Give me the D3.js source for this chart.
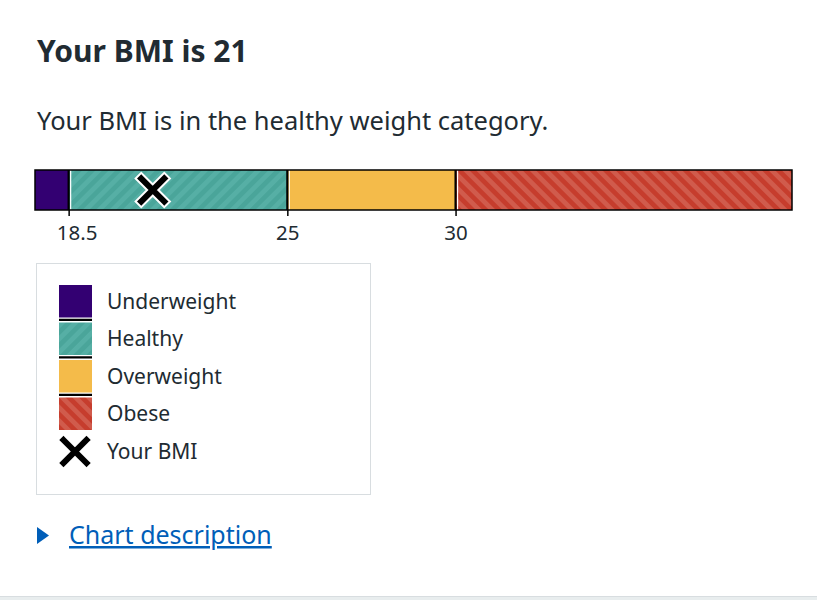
<!DOCTYPE html>
<html>
<head>
<meta charset="utf-8">
<script src="https://cdn.jsdelivr.net/npm/d3@7"></script>
<style>
  body { margin: 0; background: #fff; }
  svg { display: block; font-family: "Noto Sans", sans-serif; }
</style>
</head>
<body>
<svg id="chart"></svg>
<script>
// BMI categories and their boundaries
var categories = ["Underweight", "Healthy", "Overweight", "Obese"];
var lowerBounds = [17.5, 18.5, 25, 30];
var upperBounds = [18.5, 25, 30, 40];
var tickValues = [18.5, 25, 30];
var bmi = 21;

var width = 817, height = 600;
var ink = "#212b32";

var svg = d3.select("#chart")
    .attr("width", width)
    .attr("height", height);

var defs = svg.append("defs");

function stripes(id, base, light, angle) {
  var p = defs.append("pattern")
      .attr("id", id)
      .attr("patternUnits", "userSpaceOnUse")
      .attr("width", 9.4)
      .attr("height", 9.4)
      .attr("patternTransform", "rotate(" + angle + ")");
  p.append("rect").attr("width", 9.4).attr("height", 9.4).attr("fill", base);
  p.append("rect").attr("width", 4.7).attr("height", 9.4).attr("fill", light);
}
stripes("stripeHealthy", "#4aa59a", "#56afa5", 45);
stripes("stripeObese", "#c63d2d", "#d05b4c", -45);

var fills = ["#330072", "url(#stripeHealthy)", "#f4bb4a", "url(#stripeObese)"];

var color = d3.scaleOrdinal()
    .domain(categories)
    .range(fills);

// heading + text
svg.append("text")
    .attr("x", 37).attr("y", 62)
    .attr("font-size", 30).attr("font-weight", 700)
    .attr("fill", ink)
    .text("Your BMI is " + bmi);

svg.append("text")
    .attr("x", 37).attr("y", 130)
    .attr("font-size", 25.5)
    .attr("fill", ink)
    .text("Your BMI is in the healthy weight category.");

// the bar
var barTop = 170, barH = 40;
var x = d3.scaleLinear()
    .domain([lowerBounds[0], upperBounds[upperBounds.length - 1]])
    .range([35, 792]);

var segs = categories.map(function(c, i) {
  return { name: c, lo: lowerBounds[i], hi: upperBounds[i] };
});

var bar = svg.append("g");

bar.selectAll("rect.seg")
    .data(segs)
    .enter()
    .append("rect")
    .attr("class", "seg")
    .attr("x", d => x(d.lo))
    .attr("y", barTop)
    .attr("width", d => x(d.hi) - x(d.lo))
    .attr("height", barH)
    .attr("fill", d => color(d.name));

// divider lines (black with a thin white edge)
bar.selectAll("line.white")
    .data(tickValues)
    .enter()
    .append("line")
    .attr("class", "white")
    .attr("x1", d => x(d) + 2).attr("x2", d => x(d) + 2)
    .attr("y1", barTop).attr("y2", barTop + barH)
    .attr("stroke", "#fff")
    .attr("stroke-width", 1.2);

bar.selectAll("line.div")
    .data(tickValues)
    .enter()
    .append("line")
    .attr("class", "div")
    .attr("x1", d => x(d)).attr("x2", d => x(d))
    .attr("y1", barTop).attr("y2", barTop + barH)
    .attr("stroke", "#000")
    .attr("stroke-width", 2.2);

bar.append("rect")
    .attr("x", x.range()[0])
    .attr("y", barTop)
    .attr("width", x.range()[1] - x.range()[0])
    .attr("height", barH)
    .attr("fill", "none")
    .attr("stroke", "#000")
    .attr("stroke-width", 1.5);

// axis
var axis = svg.append("g")
    .attr("transform", "translate(0," + (barTop + barH) + ")")
    .call(d3.axisBottom(x)
      .tickValues(tickValues)
      .tickSize(6)
      .tickPadding(9)
      .tickFormat(d3.format("")));

axis.select(".domain").remove();
axis.selectAll(".tick line").attr("stroke", "#000").attr("stroke-width", 1.5);
axis.selectAll(".tick text")
    .attr("font-family", "Noto Sans, sans-serif")
    .attr("font-size", 20.5)
    .attr("fill", ink)
    .attr("dx", (d, i) => i === 0 ? 8 : 0);

// cross marker
function cross(g, s, outline) {
  var p = "M" + (-s) + "," + (-s) + "L" + s + "," + s + "M" + s + "," + (-s) + "L" + (-s) + "," + s;
  if (outline) {
    g.append("path").attr("d", p)
      .attr("stroke", "#fff").attr("stroke-width", 10)
      .attr("stroke-linecap", "square");
  }
  g.append("path").attr("d", p)
    .attr("stroke", "#000").attr("stroke-width", 6)
    .attr("stroke-linecap", "square");
}

cross(svg.append("g")
    .attr("transform", "translate(" + x(bmi) + "," + (barTop + barH / 2) + ")"), 11.5, true);

// legend
var legend = svg.append("g");
legend.append("rect")
    .attr("x", 36.5).attr("y", 263.5)
    .attr("width", 334).attr("height", 231)
    .attr("fill", "#fff")
    .attr("stroke", "#d8dde0");

var rowY = d3.scaleLinear().domain([0, 1]).range([285, 322.5]);

var rows = legend.selectAll("g.row")
    .data(categories)
    .enter()
    .append("g")
    .attr("class", "row")
    .attr("transform", (d, i) => "translate(59," + rowY(i) + ")");

rows.append("rect")
    .attr("width", 33)
    .attr("height", 32.5)
    .attr("fill", d => color(d));

rows.filter((d, i) => i > 0)
    .append("line")
    .attr("x1", 0).attr("x2", 33)
    .attr("y1", -2.6).attr("y2", -2.6)
    .attr("stroke", "#000")
    .attr("stroke-width", 2.4);

rows.append("text")
    .attr("x", 48)
    .attr("y", 23.5)
    .attr("font-size", 21)
    .attr("fill", ink)
    .text(d => d);

var bmiRow = legend.append("g")
    .attr("transform", "translate(59," + rowY(categories.length) + ")");
cross(bmiRow.append("g").attr("transform", "translate(16,16.5)"), 11.5, false);
bmiRow.append("text")
    .attr("x", 48)
    .attr("y", 23.5)
    .attr("font-size", 21)
    .attr("fill", ink)
    .text("Your BMI");

// chart description link
var link = svg.append("g");
link.append("path")
    .attr("d", "M37,527L49,535.5L37,544Z")
    .attr("fill", "#005eb8");
link.append("text")
    .attr("x", 69).attr("y", 544)
    .attr("font-size", 25)
    .attr("fill", "#005eb8")
    .attr("text-decoration", "underline")
    .text("Chart description");

// page footer edge
svg.append("rect")
    .attr("x", 0).attr("y", 596)
    .attr("width", width).attr("height", 4)
    .attr("fill", "#e8edee");
svg.append("line")
    .attr("x1", 0).attr("x2", width)
    .attr("y1", 596.5).attr("y2", 596.5)
    .attr("stroke", "#d8dde0");
</script>
</body>
</html>
